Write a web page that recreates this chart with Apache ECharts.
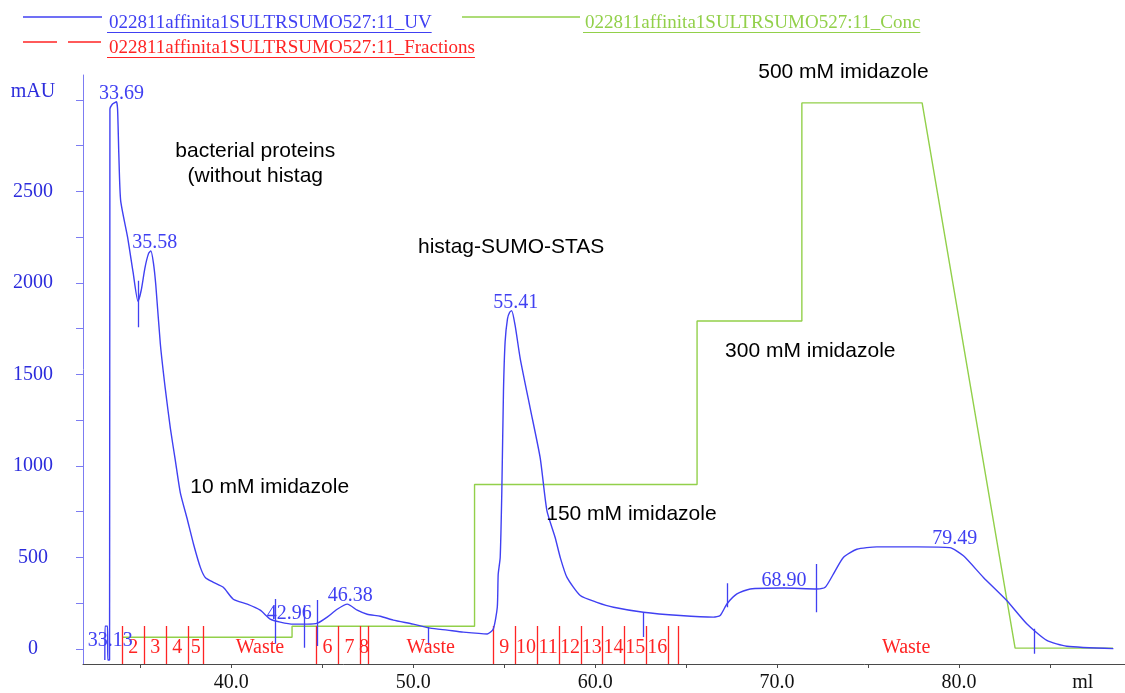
<!DOCTYPE html>
<html>
<head>
<meta charset="utf-8">
<script src="https://cdn.jsdelivr.net/npm/echarts@6/dist/echarts.min.js"></script>
<style>
  html, body { margin: 0; padding: 0; background: #ffffff; }
  #chart { width: 1125px; height: 693px; }
</style>
</head>
<body>
<div id="chart"></div>
<script>
// UV absorbance trace (ml, mAU)
const uvVolume = [33.05, 33.06, 33.20, 33.21, 33.31, 33.33, 33.45, 33.60, 33.69, 33.75, 33.82, 33.92,
  34.30, 34.60, 34.87, 35.05, 35.25, 35.45, 35.58, 35.72, 35.85, 36.10, 36.37, 36.65, 36.92,
  37.20, 37.56, 37.93, 38.30, 38.57, 39.02, 39.56, 40.11, 40.88, 41.59, 42.14, 42.69, 43.41,
  44.18, 44.73, 45.27, 45.82, 46.38, 46.92, 47.47, 48.19, 48.90, 50.00, 50.93, 51.87, 52.75,
  54.07, 54.40, 54.62, 54.67, 54.78, 54.87, 54.96, 55.05, 55.18, 55.30, 55.41, 55.60, 55.88,
  56.43, 56.98, 57.35, 57.80, 58.08, 58.45, 59.18, 60.09, 61.01, 62.65, 64.67, 66.50, 66.87,
  67.24, 67.79, 68.52, 70.35, 72.18, 72.64, 73.09, 73.64, 74.38, 75.48, 77.68, 79.49, 80.24,
  81.34, 82.62, 83.72, 84.82, 85.92, 88.48];
const uvAbs = [-60, 125, 125, -60, -60, 2950, 2975, 2985, 2990, 2950, 2700, 2450,
  2250, 2060, 1900, 1960, 2080, 2160, 2175, 2110, 1990, 1668, 1424, 1207, 1033,
  853, 717, 571, 446, 391, 364, 337, 272, 245, 212, 163, 147, 136,
  136, 141, 174, 217, 245, 212, 190, 179, 158, 136, 114, 103, 92,
  82, 109, 228, 408, 500, 864, 1408, 1678, 1804, 1840, 1848, 1768, 1587,
  1315, 1043, 754, 609, 500, 391, 292, 255, 228, 201, 183, 174, 183,
  246, 301, 328, 333, 328, 337, 409, 500, 545, 558, 558, 554, 509,
  391, 265, 138, 47, 15, 2];

// Buffer B concentration (ml, %B)
const concVolume = [34.00, 43.34, 43.34, 53.37, 53.37, 65.60, 65.60, 71.36, 71.36, 77.97, 83.08, 88.46];
const concB = [2, 2, 4, 4, 30, 30, 60, 60, 100, 100, 0, 0];

// Fraction collector cuts and tube names
const fractionCuts = [34.00, 35.22, 36.43, 37.62, 38.48, 44.67, 45.90, 47.09, 47.51, 54.41,
  55.60, 56.80, 58.02, 59.21, 60.40, 61.61, 62.80, 64.03, 64.58];
const fractionRunEnd = 89.6;
const fractionNames = ['2', '3', '4', '5', 'Waste', '6', '7', '8', 'Waste', '9',
  '10', '11', '12', '13', '14', '15', '16', '', 'Waste'];

// Integrated peaks: retention volume and height at the apex
const peakVolume = [33.13, 33.69, 35.58, 42.96, 46.38, 55.41, 68.90, 79.49];
const peakAbs = [0, 2990, 2175, 150, 245, 1848, 330, 556];
const peakShift = [4, 5, 4, 4, 3, 4, 27, 5];

// Peak start / end marks (ml, low mAU, high mAU)
const markVolume = [34.87, 42.42, 44.03, 44.71, 50.84, 62.65, 67.24, 72.14, 84.14];
const markLow = [1758, 29, 7, 16, 22, 65, 228, 201, -26];
const markHigh = [2012, 273, 239, 268, 120, 201, 359, 464, 110];

// Run annotations
const noteText = ['bacterial proteins\n(without histag', 'histag-SUMO-STAS', '10 mM imidazole',
  '150 mM imidazole', '300 mM imidazole', '500 mM imidazole'];
const noteVolume = [41.32, 55.38, 37.75, 57.31, 67.14, 68.96];
const noteAbs = [2650, 2196, 886, 734, 1625, 3152];
const noteAlign = ['center', 'center', 'left', 'left', 'left', 'left'];

// Axis ticks and labels
const volumeTicks = [35, 40, 45, 50, 55, 60, 65, 70, 75, 80, 85];
const volumeLabels = [40, 50, 60, 70, 80];
const volumeUnitAt = 86.8;
const absTicks = [0, 250, 500, 750, 1000, 1250, 1500, 1750, 2000, 2250, 2500, 2750, 3000];
const absLabels = [0, 500, 1000, 1500, 2000, 2500, 3000];

const legendNames = ['022811affinita1SULTRSUMO527:11_UV', '022811affinita1SULTRSUMO527:11_Conc',
  '022811affinita1SULTRSUMO527:11_Fractions'];

const UV_BLUE = '#4040f2';
const AXIS_BLUE = '#2c2cdc';
const FRAC_RED = '#ff2424';
const CONC_GREEN = '#92d04a';
const SERIF = '"Liberation Serif", "Times New Roman", serif';
const SANS = '"Liberation Sans", Arial, sans-serif';

const zip = (a, b) => a.map((v, i) => [v, b[i]]);

const measureCtx = document.createElement('canvas').getContext('2d');
function textWidth(text, font) {
  measureCtx.font = font;
  return measureCtx.measureText(text).width;
}

// Legend drawn as line sample + underlined caption
const legendFont = '19px ' + SERIF;
function legendEntry(x1, x2, y, color, dash, tx, name) {
  const w = textWidth(name, legendFont);
  return [
    { type: 'line', shape: { x1: x1, y1: y, x2: x2, y2: y },
      style: { stroke: color, lineWidth: 1.5, lineDash: dash } },
    { type: 'text', x: tx, y: y + 6,
      style: { text: name, font: legendFont, fill: color, verticalAlign: 'middle', align: 'left' } },
    { type: 'line', shape: { x1: tx - 2, y1: y + 15.5, x2: tx + w, y2: y + 15.5 },
      style: { stroke: color, lineWidth: 1 } }
  ];
}

const graphics = [].concat(
  legendEntry(23, 102, 17, UV_BLUE, null, 109, legendNames[0]),
  legendEntry(462, 580, 17, CONC_GREEN, null, 585, legendNames[1]),
  legendEntry(23, 101, 42, FRAC_RED, [34, 11], 109, legendNames[2])
);

// Fraction label positions: centre of each tube interval
const fracEdges = fractionCuts.concat([fractionRunEnd]);
const fractionLabelData = fractionNames.map((n, i) => ({
  name: n, value: [(fracEdges[i] + fracEdges[i + 1]) / 2, 5]
}));

const solidItem = { opacity: 1, color: 'rgba(0,0,0,0)' };

const option = {
  animation: false,
  backgroundColor: '#ffffff',
  grid: { left: 83, right: 0, top: 75, bottom: 26, containLabel: false },
  xAxis: {
    type: 'value', min: 31.85, max: 89.12,
    axisLine: { show: true, onZero: false, lineStyle: { color: '#4a4a4a', width: 1 } },
    axisTick: { show: true, length: 4, customValues: volumeTicks, lineStyle: { color: '#4a4a4a' } },
    axisLabel: {
      customValues: volumeLabels.concat([volumeUnitAt]),
      formatter: v => (v > 85 ? 'ml' : v.toFixed(1)),
      color: '#111111', fontFamily: SERIF, fontSize: 20, margin: 9
    },
    splitLine: { show: false }
  },
  yAxis: [
    {
      type: 'value', min: -82, max: 3136,
      axisLine: { show: true, onZero: false, lineStyle: { color: '#7c7cf2', width: 1 } },
      axisTick: { show: true, length: 7, customValues: absTicks, lineStyle: { color: '#7c7cf2' } },
      axisLabel: {
        customValues: absLabels,
        formatter: v => (v === 3000 ? '{u|mAU}' : String(v)),
        align: 'center', margin: 50,
        color: AXIS_BLUE, fontFamily: SERIF, fontSize: 20,
        rich: { u: { color: AXIS_BLUE, fontFamily: SERIF, fontSize: 20, padding: [0, 0, 16, 0] } }
      },
      splitLine: { show: false }
    },
    { type: 'value', min: -2.92, max: 105.12, show: false }
  ],
  graphic: graphics,
  series: [
    {
      name: 'Conc', type: 'line', yAxisIndex: 1, data: zip(concVolume, concB),
      showSymbol: false, silent: true, z: 2,
      lineStyle: { color: CONC_GREEN, width: 1.4 }
    },
    {
      name: 'Fractions', type: 'lines', coordinateSystem: 'cartesian2d', silent: true, z: 3,
      data: fractionCuts.map(x => ({ coords: [[x, -82], [x, 125]] })),
      lineStyle: { color: FRAC_RED, width: 1.3, opacity: 1 }
    },
    {
      name: 'UV', type: 'line', data: zip(uvVolume, uvAbs),
      showSymbol: false, silent: true, z: 4,
      smooth: 0.2,
      lineStyle: { color: UV_BLUE, width: 1.4 }
    },
    {
      name: 'Peak marks', type: 'lines', coordinateSystem: 'cartesian2d', silent: true, z: 4,
      data: markVolume.map((x, i) => ({ coords: [[x, markLow[i]], [x, markHigh[i]]] })),
      lineStyle: { color: UV_BLUE, width: 1.3, opacity: 1 }
    },
    {
      name: 'Fraction names', type: 'scatter', symbolSize: 0, silent: true, z: 5,
      itemStyle: solidItem,
      data: fractionLabelData,
      label: {
        show: true, position: 'inside', formatter: p => p.name,
        color: FRAC_RED, fontFamily: SERIF, fontSize: 20
      }
    },
    {
      name: 'Peak labels', type: 'scatter', symbolSize: 0, silent: true, z: 6, clip: false,
      itemStyle: solidItem,
      data: peakVolume.map((x, i) => ({
        value: [x, peakAbs[i]],
        label: { offset: [peakShift[i], 3] }
      })),
      label: {
        show: true, position: 'top', distance: 1,
        formatter: p => p.value[0].toFixed(2),
        color: UV_BLUE, fontFamily: SERIF, fontSize: 20
      }
    },
    {
      name: 'Notes', type: 'scatter', symbolSize: 0, silent: true, z: 6, clip: false,
      itemStyle: solidItem,
      data: noteText.map((t, i) => ({
        name: t, value: [noteVolume[i], noteAbs[i]],
        label: noteAlign[i] === 'left'
          ? { position: 'right', distance: 0, align: 'left' }
          : { position: 'inside', align: 'center' }
      })),
      label: {
        show: true, formatter: p => p.name,
        color: '#000000', fontFamily: SANS, fontSize: 21, lineHeight: 25
      }
    }
  ]
};

const chart = echarts.init(document.getElementById('chart'), null, { renderer: 'canvas' });
chart.setOption(option);
</script>
</body>
</html>
